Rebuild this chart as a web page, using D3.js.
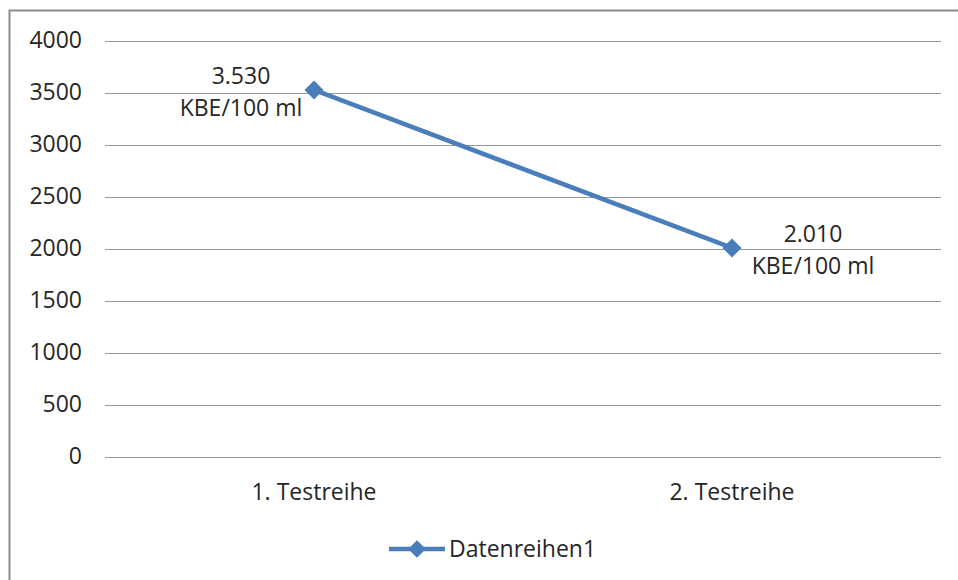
<!DOCTYPE html>
<html>
<head>
<meta charset="utf-8">
<script src="https://cdn.jsdelivr.net/npm/d3@7"></script>
<style>
  html, body { margin: 0; padding: 0; background: #fff; }
  svg text { font-family: "Open Sans", "Noto Sans", sans-serif; fill: #262626; }
</style>
</head>
<body>
<svg id="chart" width="958" height="580"></svg>
<script>
// Series data
const categories = ["1. Testreihe", "2. Testreihe"];
const values = [3530, 2010];
const valueLabels = ["3.530", "2.010"];
const unitLabel = "KBE/100 ml";
const seriesName = "Datenreihen1";
const yTicks = [0, 500, 1000, 1500, 2000, 2500, 3000, 3500, 4000];

const svg = d3.select("#chart");
const W = 958, H = 580;
const margin = { left: 105, right: 17, top: 41, bottom: 123 };
const blue = "#4a7ebb";
const fs = 23;

// Chart area frame (extends past the right and bottom edges)
svg.append("rect")
  .attr("x", 9.5).attr("y", 10.5)
  .attr("width", W + 20).attr("height", H + 20)
  .attr("fill", "none").attr("stroke", "#8c8c8c").attr("stroke-width", 2);

const x = d3.scaleBand().domain(categories).range([margin.left, W - margin.right]);
const y = d3.scaleLinear().domain([0, 4000]).range([H - margin.bottom, margin.top]);

// Horizontal gridlines and value axis labels
const yAxis = d3.axisLeft(y).tickValues(yTicks).tickFormat(d3.format("d"))
  .tickSize(-(W - margin.left - margin.right)).tickPadding(23);
const gy = svg.append("g").attr("transform", `translate(${margin.left},0)`).call(yAxis);
gy.select(".domain").remove();
gy.selectAll(".tick line").attr("stroke", "#989898").attr("stroke-width", 1.2);
gy.selectAll(".tick text").attr("font-size", fs).attr("fill", "#262626")
  .attr("dy", "0.27em")
  .style("font-family", "'Open Sans', sans-serif");

// Category axis labels
const xAxis = d3.axisBottom(x).tickSize(0).tickPadding(27);
const gx = svg.append("g").attr("transform", `translate(0,${y(0)})`).call(xAxis);
gx.select(".domain").remove();
gx.selectAll(".tick text").attr("font-size", fs).attr("fill", "#262626")
  .style("font-family", "'Open Sans', sans-serif");

// Line
const pts = categories.map((c, i) => [x(c) + x.bandwidth() / 2, y(values[i])]);
svg.append("path")
  .attr("d", d3.line()(pts))
  .attr("fill", "none").attr("stroke", blue).attr("stroke-width", 4.5);

// Diamond markers
const diamond = d3.symbol().type(d3.symbolDiamond2).size(230);
svg.selectAll("path.marker").data(pts).join("path")
  .attr("class", "marker")
  .attr("d", diamond)
  .attr("transform", d => `translate(${d[0]},${d[1]})`)
  .attr("fill", blue);

// Data labels: first to the left of its point, second to the right
const labelOffsets = [-73, 81];
categories.forEach((c, i) => {
  const cx = pts[i][0] + labelOffsets[i];
  const cy = pts[i][1];
  const t = svg.append("text").attr("text-anchor", "middle").attr("font-size", fs);
  t.append("tspan").attr("x", cx).attr("y", cy - 6).text(valueLabels[i]);
  t.append("tspan").attr("x", cx).attr("y", cy + 26).text(unitLabel);
});

// Legend
const lg = svg.append("g").attr("transform", "translate(389,549)");
lg.append("line").attr("x1", 0).attr("x2", 56).attr("y1", 0).attr("y2", 0)
  .attr("stroke", blue).attr("stroke-width", 4.5);
lg.append("path").attr("d", d3.symbol().type(d3.symbolDiamond2).size(200))
  .attr("transform", "translate(28,0)").attr("fill", blue);
lg.append("text").attr("x", 60).attr("y", 8).attr("font-size", fs).text(seriesName);
</script>
</body>
</html>
